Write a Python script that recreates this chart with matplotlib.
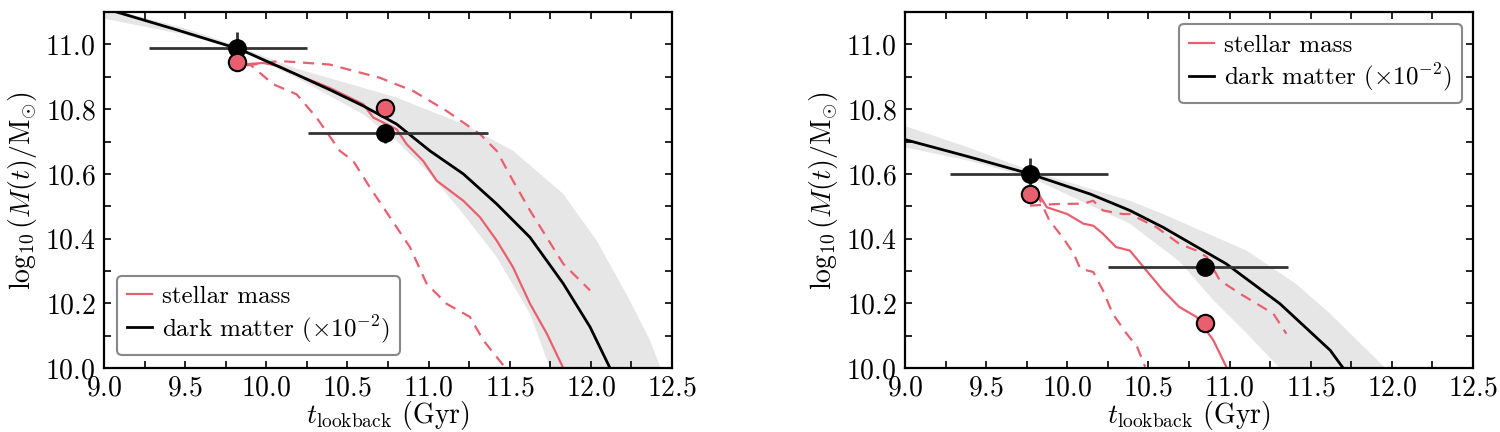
import matplotlib
matplotlib.use("Agg")
import matplotlib.pyplot as plt
from matplotlib.ticker import MultipleLocator

plt.rcParams['font.family'] = 'serif'
plt.rcParams['font.serif'] = ['cmr10']
plt.rcParams['mathtext.fontset'] = 'cm'
plt.rcParams['axes.formatter.use_mathtext'] = True

PINK = '#e8606f'
BAND = '#e6e6e6'

# left panel
dm_t_l = [9.0, 9.10, 9.45, 9.838, 10.187, 10.40, 10.598, 10.803, 11.009, 11.214, 11.42, 11.625, 11.83, 11.995, 12.118]
dm_m_l = [11.112, 11.097, 11.045, 10.985, 10.907, 10.858, 10.81, 10.754, 10.671, 10.60, 10.507, 10.404, 10.261, 10.127, 10.0]
band_t_l = [9.0, 9.5, 9.82, 10.187, 10.5, 10.803, 11.214, 11.522, 11.83, 12.036, 12.24, 12.364, 12.43]
band_hi_l = [11.115, 11.05, 10.995, 10.925, 10.88, 10.836, 10.754, 10.671, 10.538, 10.394, 10.209, 10.086, 10.0]
band_t2_l = [9.0, 9.5, 9.82, 10.187, 10.598, 10.803, 11.009, 11.214, 11.42, 11.625, 11.748]
band_lo_l = [11.08, 11.03, 10.985, 10.897, 10.784, 10.702, 10.60, 10.476, 10.343, 10.168, 10.0]

sm_t_l = [9.858, 9.98, 10.08, 10.187, 10.39, 10.598, 10.66, 10.803, 10.865, 10.967, 11.05, 11.214, 11.317, 11.42, 11.52, 11.625, 11.728, 11.83]
sm_m_l = [10.938, 10.943, 10.933, 10.907, 10.866, 10.815, 10.774, 10.738, 10.692, 10.64, 10.579, 10.517, 10.466, 10.394, 10.312, 10.199, 10.107, 10.0]
hi_t_l = [9.88, 10.08, 10.39, 10.70, 10.906, 11.11, 11.317, 11.42, 11.52, 11.625, 11.728, 11.83, 11.995]
hi_m_l = [10.935, 10.949, 10.938, 10.897, 10.856, 10.795, 10.723, 10.671, 10.579, 10.487, 10.404, 10.322, 10.24]
lo_t_l = [9.86, 9.9, 10.043, 10.187, 10.31, 10.454, 10.536, 10.639, 10.762, 10.885, 10.988, 11.11, 11.255, 11.337, 11.46]
lo_m_l = [10.94, 10.938, 10.877, 10.846, 10.774, 10.671, 10.64, 10.558, 10.466, 10.374, 10.261, 10.199, 10.158, 10.086, 10.009]

pts_t_l = [9.82, 10.73]
pts_dm_l = [10.99, 10.725]
pts_sm_l = [10.945, 10.805]
xerr_lo_l = [9.28, 10.259]
xerr_hi_l = [10.25, 11.368]
yerr_l = [0.05, 0.03]

# right panel
dm_t_r = [9.0, 9.4, 9.77, 10.14, 10.386, 10.59, 10.98, 11.31, 11.62, 11.70]
dm_m_r = [10.706, 10.652, 10.60, 10.538, 10.487, 10.435, 10.322, 10.199, 10.055, 10.0]
band_t_r = [9.0, 9.4, 9.77, 10.386, 10.59, 11.105, 11.41, 11.62, 11.96]
band_hi_r = [10.748, 10.68, 10.61, 10.517, 10.476, 10.363, 10.26, 10.168, 10.0]
band_t2_r = [9.0, 9.4, 9.77, 10.386, 10.69, 10.9, 11.1, 11.31]
band_lo_r = [10.682, 10.64, 10.59, 10.446, 10.33, 10.21, 10.11, 10.0]

sm_t_r = [9.81, 9.874, 10.0, 10.10, 10.16, 10.22, 10.30, 10.386, 10.49, 10.59, 10.69, 10.796, 10.90, 10.98]
sm_m_r = [10.548, 10.497, 10.476, 10.446, 10.44, 10.415, 10.374, 10.363, 10.30, 10.24, 10.189, 10.158, 10.086, 10.004]
hi_t_r = [9.77, 9.94, 10.10, 10.16, 10.22, 10.34, 10.386, 10.55, 10.69, 10.796, 10.86, 10.94, 11.064, 11.167, 11.27, 11.35]
hi_m_r = [10.502, 10.507, 10.508, 10.517, 10.487, 10.476, 10.476, 10.435, 10.384, 10.363, 10.343, 10.271, 10.23, 10.199, 10.168, 10.106]
lo_t_r = [9.81, 9.89, 9.97, 10.04, 10.08, 10.16, 10.22, 10.28, 10.366, 10.43, 10.48]
lo_m_r = [10.543, 10.456, 10.405, 10.354, 10.307, 10.297, 10.24, 10.168, 10.106, 10.066, 10.004]

pts_t_r = [9.77, 10.85]
pts_dm_r = [10.60, 10.312]
pts_sm_r = [10.538, 10.14]
xerr_lo_r = [9.277, 10.25]
xerr_hi_r = [10.25, 11.36]
yerr_r = [0.05, 0.02]

fig = plt.figure(figsize=(15, 4.32), dpi=100)
ax1 = fig.add_axes([0.0693, 0.148, 0.3787, 0.824])
ax2 = fig.add_axes([0.6033, 0.148, 0.3787, 0.824])

panels = [
    (ax1, dm_t_l, dm_m_l, band_t_l, band_hi_l, band_t2_l, band_lo_l, sm_t_l, sm_m_l, hi_t_l, hi_m_l, lo_t_l, lo_m_l,
     pts_t_l, pts_dm_l, pts_sm_l, xerr_lo_l, xerr_hi_l, yerr_l, 'lower left', (0.023, 0.037)),
    (ax2, dm_t_r, dm_m_r, band_t_r, band_hi_r, band_t2_r, band_lo_r, sm_t_r, sm_m_r, hi_t_r, hi_m_r, lo_t_r, lo_m_r,
     pts_t_r, pts_dm_r, pts_sm_r, xerr_lo_r, xerr_hi_r, yerr_r, 'upper right', (0.981, 0.966)),
]

for (ax, dt, dm, bt, bh, bt2, bl, st, sm, ht, hm, lt, lm, pt, pdm, psm, xlo, xhi, ye, loc, anchor) in panels:
    # band: upper edge forward, lower edge back, closed below the axes
    poly_x = bt + [bt[-1], bt2[-1]] + bt2[::-1]
    poly_y = bh + [9.5, 9.5] + bl[::-1]
    ax.fill(poly_x, poly_y, color=BAND, lw=0, zorder=0)
    ax.plot(st, sm, color=PINK, lw=1.6, zorder=2, label='stellar mass')
    ax.plot(ht, hm, color=PINK, lw=1.6, ls=(0, (5, 3.5)), zorder=2)
    ax.plot(lt, lm, color=PINK, lw=1.6, ls=(0, (5, 3.5)), zorder=2)
    ax.plot(dt, dm, color='black', lw=2, zorder=3, label=r'dark matter $(\times10^{-2})$')
    xerr = [[p - lo for p, lo in zip(pt, xlo)], [hi - p for p, hi in zip(pt, xhi)]]
    ax.errorbar(pt, pdm, xerr=xerr, yerr=ye, fmt='none', ecolor='#333333', elinewidth=2, capsize=0, zorder=4)
    ax.plot(pt, pdm, 'o', color='black', ms=12.5, zorder=5)
    ax.plot(pt, psm, 'o', mfc=PINK, mec='black', mew=1.5, ms=12.5, zorder=5)

    ax.set_xlim(9.0, 12.5)
    ax.set_ylim(10.0, 11.1)
    ax.xaxis.set_major_locator(MultipleLocator(0.5))
    ax.xaxis.set_minor_locator(MultipleLocator(0.25))
    ax.yaxis.set_major_locator(MultipleLocator(0.2))
    ax.yaxis.set_minor_locator(MultipleLocator(0.1))
    ax.tick_params(which='both', direction='in', top=True, right=True, length=5, width=1.2, labelsize=20)
    ax.tick_params(axis='x', pad=5)
    ax.tick_params(axis='y', pad=6)
    for s in ax.spines.values():
        s.set_linewidth(1.6)
    ax.set_xlabel(r'$t_{\mathrm{lookback}}$ (Gyr)', fontsize=20, labelpad=-2)
    ax.set_ylabel(r'$\log_{10}(M(t)/\mathrm{M}_{\odot})$', fontsize=20, labelpad=4)
    leg = ax.legend(loc=loc, bbox_to_anchor=anchor, borderaxespad=0, fontsize=18, handlelength=1.0,
                    handletextpad=0.4, labelspacing=0.2, borderpad=0.4, fancybox=True, framealpha=1)
    leg.get_frame().set_edgecolor('#888888')
    leg.get_frame().set_linewidth(1.5)

fig.savefig('out.png', dpi=100)
